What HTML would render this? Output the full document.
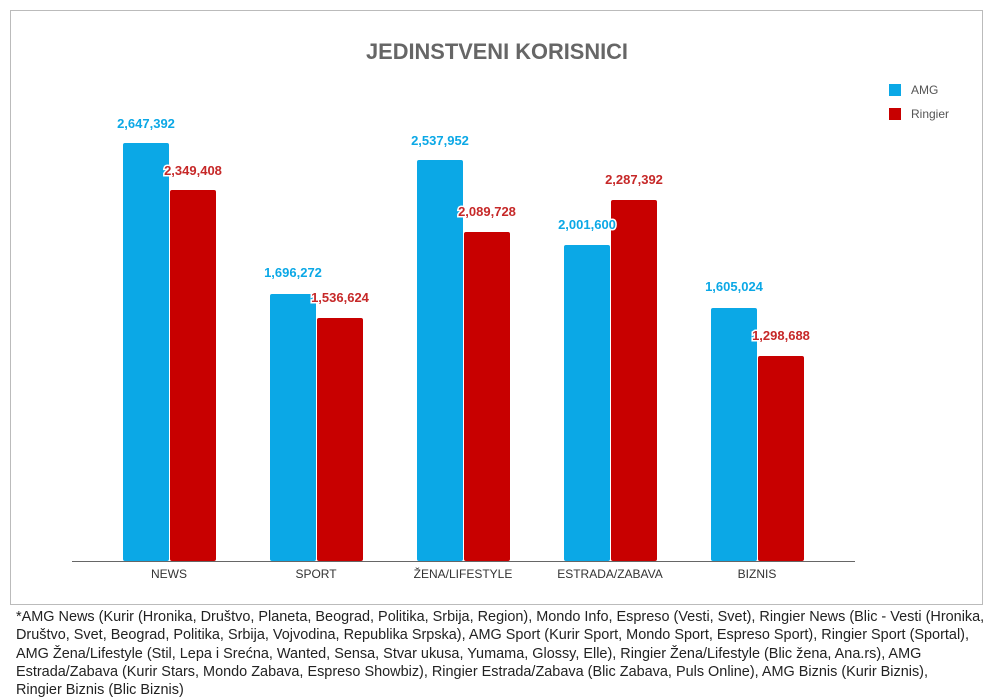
<!DOCTYPE html>
<html><head><meta charset="utf-8"><style>
body{margin:0;width:1000px;height:695px;background:#fff;overflow:hidden;font-family:"Liberation Sans",sans-serif;}
.foot{position:absolute;left:16px;top:608px;font-size:15px;line-height:18.3px;color:#222;white-space:nowrap;transform:scaleX(0.963);transform-origin:0 0;}
</style></head><body>
<svg width="1000" height="610" style="position:absolute;left:0;top:0" font-family="Liberation Sans, sans-serif">
<rect x="10.5" y="10.5" width="972" height="594" fill="#fff" stroke="#bbb"/>
<text x="497" y="59" text-anchor="middle" font-size="22" font-weight="bold" fill="#666" textLength="262" lengthAdjust="spacingAndGlyphs">JEDINSTVENI KORISNICI</text>
<rect x="889" y="84" width="12" height="12" fill="#0ba8e6"/>
<text x="911" y="94" font-size="12" fill="#555">AMG</text>
<rect x="889" y="108" width="12" height="12" fill="#c80000"/>
<text x="911" y="118" font-size="12" fill="#555">Ringier</text>
<g fill="#0ba8e6">
<rect x="123" y="143" width="46" height="418" rx="2"/>
<rect x="270" y="294" width="46" height="267" rx="2"/>
<rect x="417" y="160" width="46" height="401" rx="2"/>
<rect x="564" y="245" width="46" height="316" rx="2"/>
<rect x="711" y="308" width="46" height="253" rx="2"/>
</g>
<g fill="#c80000">
<rect x="170" y="190" width="46" height="371" rx="2"/>
<rect x="317" y="318" width="46" height="243" rx="2"/>
<rect x="464" y="232" width="46" height="329" rx="2"/>
<rect x="611" y="200" width="46" height="361" rx="2"/>
<rect x="758" y="356" width="46" height="205" rx="2"/>
</g>
<line x1="72" y1="561.5" x2="855" y2="561.5" stroke="#666"/>
<g font-size="13" font-weight="bold" text-anchor="middle" stroke="#fff" stroke-width="3" paint-order="stroke">
<g fill="#0ba8e6">
<text x="146" y="128">2,647,392</text>
<text x="293" y="277">1,696,272</text>
<text x="440" y="145">2,537,952</text>
<text x="587" y="229">2,001,600</text>
<text x="734" y="291">1,605,024</text>
</g>
<g fill="#c62828">
<text x="193" y="175">2,349,408</text>
<text x="340" y="302">1,536,624</text>
<text x="487" y="216">2,089,728</text>
<text x="634" y="184">2,287,392</text>
<text x="781" y="340">1,298,688</text>
</g>
</g>
<g font-size="12" fill="#333" text-anchor="middle">
<text x="169" y="578">NEWS</text>
<text x="316" y="578">SPORT</text>
<text x="463" y="578">ŽENA/LIFESTYLE</text>
<text x="610" y="578">ESTRADA/ZABAVA</text>
<text x="757" y="578">BIZNIS</text>
</g>
</svg>
<div class="foot">*AMG News (Kurir (Hronika, Društvo, Planeta, Beograd, Politika, Srbija, Region), Mondo Info, Espreso (Vesti, Svet), Ringier News (Blic - Vesti (Hronika,<br>Društvo, Svet, Beograd, Politika, Srbija, Vojvodina, Republika Srpska), AMG Sport (Kurir Sport, Mondo Sport, Espreso Sport), Ringier Sport (Sportal),<br>AMG Žena/Lifestyle (Stil, Lepa i Srećna, Wanted, Sensa, Stvar ukusa, Yumama, Glossy, Elle), Ringier Žena/Lifestyle (Blic žena, Ana.rs), AMG<br>Estrada/Zabava (Kurir Stars, Mondo Zabava, Espreso Showbiz), Ringier Estrada/Zabava (Blic Zabava, Puls Online), AMG Biznis (Kurir Biznis),<br>Ringier Biznis (Blic Biznis)</div>
</body></html>
